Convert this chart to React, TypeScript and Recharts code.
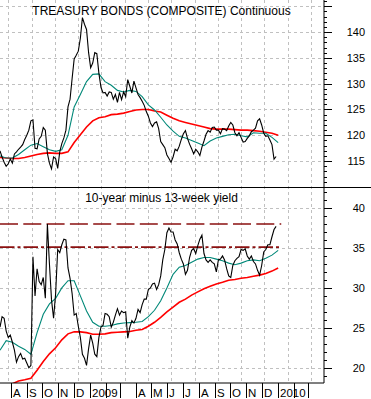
import React from "react";
import { LineChart, Line, XAxis, YAxis, ReferenceLine } from "recharts";

// time axis: days counted from the first point of the chart
const START_DATE = Date.UTC(2008, 6, 11);
const END_DATE = Date.UTC(2010, 3, 1);
const DAY_MS = 86400000;
const DAILY_STEP = 4; // days between points of the price / spread lines
const AVG_STEP = 12; // days between points of the moving averages

// Treasury bonds (composite), continuous contract
const bondClose = [
  117.0, 115.8, 114.8, 114.0, 114.5, 115.4, 114.6, 116.4, 116.8, 117.3,
  117.7, 118.2, 119.2, 120.0, 121.0, 122.8, 123.0, 117.5, 117.4, 119.3,
  119.8, 121.5, 121.0, 116.5, 114.6, 113.5, 115.8, 115.5, 113.6, 116.8,
  118.4, 119.5, 121.0, 125.5, 127.0, 131.0, 134.8, 135.5, 136.3, 138.8,
  142.8, 141.5, 140.5, 136.0, 133.1, 134.0, 136.0, 135.8, 132.0, 129.3,
  128.2, 128.3, 127.6, 128.4, 128.3, 127.0, 127.9, 126.4, 128.3, 126.9,
  128.4, 127.5, 130.8, 129.5, 128.2, 130.5, 129.2, 127.9, 127.3, 126.6,
  125.8, 124.6, 123.7, 122.4, 121.7, 122.4, 122.6, 121.3, 118.8, 118.2,
  117.6, 116.2, 115.5, 114.8, 115.8, 117.3, 117.0, 117.9, 119.2, 120.3,
  120.9, 119.4, 118.3, 117.4, 116.4, 117.3, 116.8, 116.1, 117.7, 118.9,
  120.2, 120.9, 120.6, 121.5, 121.6, 121.0, 121.0, 120.3, 121.3, 121.2,
  120.9, 121.8, 122.5, 122.0, 120.5, 119.9, 120.5, 119.6, 118.7, 118.8,
  119.4, 119.9, 120.7, 121.0, 121.4, 122.8, 123.2, 122.0, 120.4, 119.8,
  119.9, 119.1, 118.2, 115.4, 115.9,
];
const bondAvgFast = [
  116.0, 115.6, 115.6, 116.3, 117.2, 118.1, 118.4, 117.8, 117.2, 116.9,
  117.2, 120.0, 125.5, 127.9, 130.4, 131.8, 131.9, 130.4, 129.7, 128.7,
  128.4, 128.7, 128.5, 127.5, 125.9, 124.9, 123.5, 122.0, 120.8, 119.8,
  119.5, 119.0, 118.5, 118.0, 118.9, 119.5, 119.8, 120.1, 120.2, 119.9,
  119.7, 120.5, 120.4, 120.4, 119.6, 118.6,
];
const bondAvgSlow = [
  115.7, 115.6, 115.5, 115.5, 115.7, 116.0, 116.3, 116.5, 116.6, 116.5,
  116.5, 116.8, 118.6, 120.1, 121.6, 122.8, 123.4, 123.6, 124.0, 124.1,
  124.3, 124.6, 124.9, 125.0, 125.0, 124.7, 124.5, 123.9, 123.3, 122.8,
  122.5, 122.2, 121.9, 121.6, 121.3, 121.2, 121.2, 121.2, 121.1, 121.0,
  121.0, 120.9, 120.8, 120.6, 120.4, 120.0,
];

// 10-year minus 13-week yield
const spread = [
  25.1, 26.4, 26.2, 24.6, 23.8, 24.1, 23.2, 22.2, 20.7, 21.4,
  21.8, 21.1, 21.2, 20.6, 20.0, 20.3, 33.9, 29.0, 32.4, 30.8,
  30.4, 31.3, 28.7, 38.0, 33.0, 28.5, 26.2, 29.3, 34.8, 34.4,
  35.4, 36.1, 36.0, 32.5, 31.2, 29.3, 26.6, 26.8, 25.2, 23.8,
  21.7, 21.2, 20.3, 22.4, 24.1, 23.1, 21.7, 21.4, 23.8, 25.1,
  25.3, 26.8, 26.7, 26.4, 25.1, 25.7, 26.6, 27.4, 26.6, 27.1,
  26.9, 27.0, 23.7, 25.1, 25.9, 25.6, 26.2, 27.3, 26.9, 27.9,
  28.6, 28.6, 29.8, 30.0, 30.5, 30.6, 29.8, 30.4, 31.5, 33.5,
  34.8, 36.9, 37.5, 37.0, 37.0, 36.0, 35.5, 34.4, 33.6, 33.0,
  31.7, 32.2, 33.8, 34.7, 34.9, 34.3, 35.3, 36.1, 36.6, 34.3,
  33.5, 33.2, 33.5, 33.2, 33.0, 32.0, 33.5, 33.6, 34.0, 33.5,
  32.4, 31.5, 31.3, 32.8, 33.4, 33.7, 33.9, 34.8, 34.7, 34.9,
  34.0, 33.6, 34.0, 33.3, 33.0, 32.2, 31.6, 32.8, 34.5, 34.8,
  35.4, 35.4, 36.4, 37.3, 37.7,
];
const spreadAvgFast = [
  22.2, 23.4, 23.2, 22.7, 22.3, 21.7, 24.4, 26.7, 28.0, 28.7,
  30.0, 30.9, 30.9, 29.0, 27.1, 25.7, 25.2, 25.2, 25.3, 25.5,
  25.6, 25.65, 25.7, 25.8, 26.4, 27.2, 28.4, 30.0, 31.7, 32.6,
  32.8, 33.2, 33.6, 33.8, 33.8, 33.6, 33.4, 33.1, 32.9, 33.1,
  33.4, 33.5, 33.4, 33.7, 34.1, 34.7,
];
const spreadAvgSlow = [
  null, null, 18.0, 18.35, 18.5, 18.7, 19.7, 20.8, 21.75, 22.5,
  23.5, 24.25, 24.5, 24.5, 24.4, 24.2, 24.2, 24.25, 24.4, 24.45,
  24.5, 24.55, 24.7, 24.8, 25.2, 25.7, 26.3, 27.0, 27.6, 28.2,
  28.6, 29.1, 29.5, 29.9, 30.2, 30.5, 30.7, 30.95, 31.05, 31.2,
  31.3, 31.45, 31.6, 31.8, 32.1, 32.5,
];

const spreadUpperLevel = 38;
const spreadLowerLevel = 35.1;
const levelEndDate = "2010-01-08";

// axes
const monthTickDates = [
  "2008-08-01", "2008-09-01", "2008-10-01", "2008-11-01", "2008-12-01",
  "2009-01-01", "2009-02-01", "2009-03-01", "2009-04-01", "2009-05-01",
  "2009-06-01", "2009-07-01", "2009-08-01", "2009-09-01", "2009-10-01",
  "2009-11-01", "2009-12-01", "2010-01-01", "2010-02-01", "2010-03-01",
];
const monthLabels = [
  "A", "S", "O", "N", "D", "2009", "", "", "A", "M",
  "J", "J", "A", "S", "O", "N", "D", "2010", "", "",
];
const topDomain = [109.8, 146.2];
const topLabels = [115, 120, 125, 130, 135, 140];
const bottomDomain = [18.1, 42.5];
const bottomLabels = [20, 25, 30, 35, 40];

const FONT = "'Liberation Sans', Arial, sans-serif";
const TEAL = "#008878";
const RED = "#ff0000";
const LEVEL = "#8b1010";
const GRID = "#c0c0c0";

// layout of the two stacked panels
const PLOT_W = 324;
const TOP_H = 188;
const BOTTOM_TOP = 188;
const BOTTOM_PLOT_H = 195;

const toDay = (iso: string) => (Date.parse(iso + "T00:00:00Z") - START_DATE) / DAY_MS;
const totalDays = (END_DATE - START_DATE) / DAY_MS;
const monthDays = monthTickDates.map(toDay);

const series = (values: (number | null)[], step: number) =>
  values
    .map((v, i) => ({ day: i * step, v }))
    .filter((d) => d.v !== null);

const range = (a: number, b: number) => {
  const out: number[] = [];
  for (let v = a; v <= b; v++) out.push(v);
  return out;
};

// dashed background grid: vertical lines every ~45 days, horizontal every 5 units
const gridDays = range(0, 13).map((k) => 16.1 + k * 45.2);
const topGrid = [110, 115, 120, 125, 130, 135, 140, 145];
const bottomGrid = [20, 25, 30, 35, 40];
const crisp = (p: number) => Math.round(p) + 0.5;
const gridX = gridDays.map((d) => crisp((d / totalDays) * PLOT_W));
const gridTopY = topGrid.map((v) => crisp(((topDomain[1] - v) / (topDomain[1] - topDomain[0])) * TOP_H));
const gridBottomY = bottomGrid.map((v) =>
  crisp(BOTTOM_TOP + ((bottomDomain[1] - v) / (bottomDomain[1] - bottomDomain[0])) * BOTTOM_PLOT_H)
);

const makeRightTick = (labels: number[]) => (props: any) => {
  const { x, y, payload } = props;
  const v = payload.value;
  const major = v % 5 === 0;
  const yy = Math.round(y) + 0.5;
  return (
    <g>
      <line x1={x} x2={x + (major ? 8 : 3)} y1={yy} y2={yy} stroke="#000" shapeRendering="crispEdges" />
      {labels.includes(v) && (
        <text x={x + 41} y={y + 4} textAnchor="end" fontSize={11} fill="#000" fontFamily={FONT}>
          {v}
        </text>
      )}
    </g>
  );
};

const MonthTick = (props: any) => {
  const { x, y, payload } = props;
  const idx = monthDays.indexOf(payload.value);
  const xx = Math.round(x) + 0.5;
  return (
    <g>
      <line x1={xx} x2={xx} y1={y} y2={y + 15} stroke="#000" shapeRendering="crispEdges" />
      <text x={xx + 1.5} y={y + 13.5} fontSize={11.5} fill="#000" fontFamily={FONT}>
        {idx >= 0 ? monthLabels[idx] : ""}
      </text>
    </g>
  );
};

const lineProps = { dataKey: "v", dot: false, activeDot: false, isAnimationActive: false } as const;

export default function App() {
  const levelEnd = toDay(levelEndDate);
  return (
    <div style={{ position: "absolute", left: 0, top: 0, width: 371, height: 399, background: "#fff" }}>
      <svg width={371} height={399} style={{ position: "absolute", left: 0, top: 0 }}>
        <g stroke={GRID} strokeDasharray="3 3" shapeRendering="crispEdges">
          {gridX.map((x) => (
            <line key={"vx" + x} x1={x} x2={x} y1={0} y2={BOTTOM_TOP + BOTTOM_PLOT_H} />
          ))}
          {gridTopY.map((y) => (
            <line key={"ht" + y} x1={0} x2={PLOT_W} y1={y} y2={y} />
          ))}
          {gridBottomY.map((y) => (
            <line key={"hb" + y} x1={0} x2={PLOT_W} y1={y} y2={y} />
          ))}
        </g>
      </svg>
      <div style={{ position: "absolute", left: 0, top: 0 }}>
        <LineChart width={371} height={TOP_H} margin={{ top: 0, right: 0, bottom: 0, left: 0 }}>
          <XAxis dataKey="day" type="number" domain={[0, totalDays]} allowDataOverflow hide />
          <YAxis
            orientation="right"
            type="number"
            width={47}
            domain={topDomain}
            allowDataOverflow
            ticks={range(110, 146)}
            interval={0}
            tickSize={0}
            tickMargin={0}
            tickLine={false}
            axisLine={{ stroke: "#000" }}
            tick={makeRightTick(topLabels)}
          />
          <Line {...lineProps} data={series(bondAvgSlow, AVG_STEP)} stroke={RED} strokeWidth={1.6} />
          <Line {...lineProps} data={series(bondAvgFast, AVG_STEP)} stroke={TEAL} strokeWidth={1.1} />
          <Line {...lineProps} data={series(bondClose, DAILY_STEP)} stroke="#000" strokeWidth={1.1} />
        </LineChart>
      </div>
      <div style={{ position: "absolute", left: 0, top: BOTTOM_TOP }}>
        <LineChart width={371} height={211} margin={{ top: 0, right: 0, bottom: 0, left: 0 }}>
          <XAxis
            dataKey="day"
            type="number"
            domain={[0, totalDays]}
            allowDataOverflow
            ticks={monthDays}
            interval={0}
            height={16}
            tickSize={0}
            tickMargin={0}
            tickLine={false}
            axisLine={{ stroke: "#000" }}
            tick={<MonthTick />}
          />
          <YAxis
            orientation="right"
            type="number"
            width={47}
            domain={bottomDomain}
            allowDataOverflow
            ticks={range(19, 42)}
            interval={0}
            tickSize={0}
            tickMargin={0}
            tickLine={false}
            axisLine={{ stroke: "#000" }}
            tick={makeRightTick(bottomLabels)}
          />
          <ReferenceLine
            segment={[{ x: 0, y: spreadUpperLevel }, { x: levelEnd, y: spreadUpperLevel }]}
            stroke={LEVEL}
            strokeWidth={1.6}
            strokeDasharray="18 5.3"
          />
          <ReferenceLine
            segment={[{ x: 0, y: spreadLowerLevel }, { x: levelEnd, y: spreadLowerLevel }]}
            stroke={LEVEL}
            strokeWidth={1.6}
            strokeDasharray="14.5 3 3 3"
          />
          <Line {...lineProps} data={series(spreadAvgSlow, AVG_STEP)} stroke={RED} strokeWidth={1.6} />
          <Line {...lineProps} data={series(spreadAvgFast, AVG_STEP)} stroke={TEAL} strokeWidth={1.1} />
          <Line {...lineProps} data={series(spread, DAILY_STEP)} stroke="#000" strokeWidth={1.1} />
        </LineChart>
      </div>
      <svg width={371} height={399} style={{ position: "absolute", left: 0, top: 0, pointerEvents: "none" }}>
        <line x1={0} x2={371} y1={187.5} y2={187.5} stroke="#000" />
        <text x={161.5} y={15} textAnchor="middle" fontSize={12} fill="#000" fontFamily={FONT}>
          TREASURY BONDS (COMPOSITE) Continuous
        </text>
        <text x={161.5} y={202} textAnchor="middle" fontSize={12} fill="#000" fontFamily={FONT}>
          10-year minus 13-week yield
        </text>
      </svg>
    </div>
  );
}
